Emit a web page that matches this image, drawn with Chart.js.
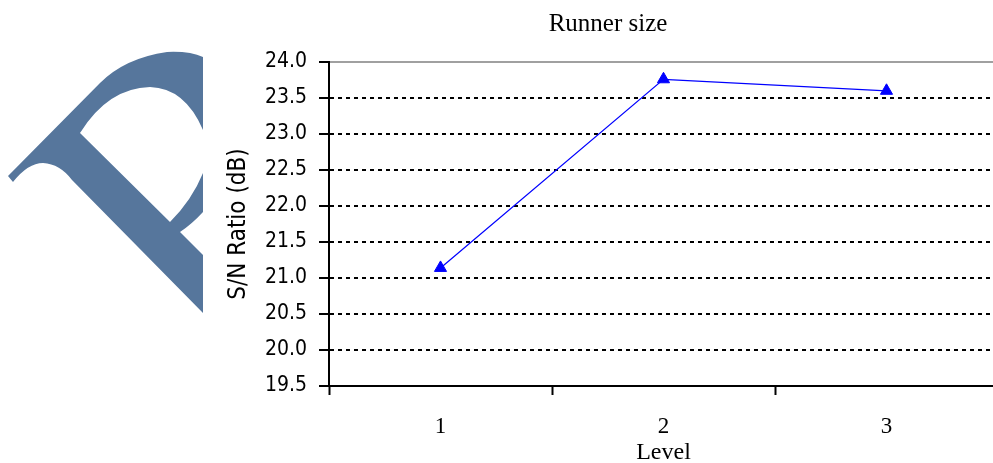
<!DOCTYPE html>
<html>
<head>
<meta charset="utf-8">
<script src="https://cdn.jsdelivr.net/npm/chart.js@4/dist/chart.umd.min.js"></script>
<style>
  html, body { margin: 0; padding: 0; background: #fff; overflow: hidden; }
  /* wider than the window: the plot runs a little past the right edge */
  #wrap { position: absolute; left: 0; top: 0; width: 1006px; height: 470px; }
</style>
</head>
<body>
<div id="wrap"><canvas id="chart"></canvas></div>
<script>
const levels = ["1", "2", "3"];
const snRatio = [21.14, 23.76, 23.6];
const yTicks = [19.5, 20.0, 20.5, 21.0, 21.5, 22.0, 22.5, 23.0, 23.5, 24.0];

const chartTitle = "Runner size";
const yTitle = "S/N Ratio (dB)";
const xTitle = "Level";

// blue logo shape on the left, the title and the plot top border
const backdrop = {
  id: "backdrop",
  beforeDraw(chart) {
    const ctx = chart.ctx;
    ctx.save();
    ctx.fillStyle = "#56769c";
    ctx.beginPath();
    ctx.moveTo(8, 176);
    ctx.lineTo(100, 83);
    ctx.quadraticCurveTo(125, 58, 167, 52);
    ctx.quadraticCurveTo(190, 51, 203, 57);
    ctx.lineTo(203, 130);
    ctx.quadraticCurveTo(185, 88, 150, 87);
    ctx.quadraticCurveTo(108, 88, 80, 133);
    ctx.lineTo(170, 222);
    ctx.quadraticCurveTo(192, 200, 203, 173);
    ctx.lineTo(203, 212);
    ctx.quadraticCurveTo(192, 224, 180, 232);
    ctx.lineTo(203, 255);
    ctx.lineTo(203, 313);
    ctx.lineTo(72, 180);
    ctx.quadraticCurveTo(60, 164, 43, 163);
    ctx.quadraticCurveTo(28, 163, 13, 182);
    ctx.closePath();
    ctx.fill();

    ctx.fillStyle = "#000";
    ctx.font = "25px 'Liberation Serif'";
    ctx.textAlign = "center";
    ctx.textBaseline = "middle";
    ctx.fillText(chartTitle, 608, 24);

    const a = chart.chartArea;
    ctx.strokeStyle = "#a0a0a0";
    ctx.lineWidth = 2;
    ctx.beginPath();
    ctx.moveTo(a.left, a.top);
    ctx.lineTo(a.right, a.top);
    ctx.stroke();
    ctx.restore();
  }
};

new Chart(document.getElementById("chart"), {
  type: "line",
  data: {
    labels: levels,
    datasets: [{
      data: snRatio,
      borderColor: "#0000ff",
      backgroundColor: "#0000ff",
      borderWidth: 1.2,
      pointStyle: "triangle",
      pointRadius: 7,
      pointBorderWidth: 1,
      tension: 0
    }]
  },
  options: {
    responsive: true,
    maintainAspectRatio: false,
    animation: false,
    layout: { padding: { top: 62, right: 2, left: 0, bottom: 0 } },
    plugins: {
      legend: { display: false },
      title: { display: false },
      tooltip: { enabled: false }
    },
    scales: {
      x: {
        offset: true,
        grid: {
          offset: true,
          drawOnChartArea: false,
          drawTicks: true,
          tickLength: 9,
          tickColor: "#000",
          tickWidth: 2
        },
        border: { color: "#000", width: 2 },
        ticks: {
          color: "#000",
          padding: 18,
          font: { family: "'Liberation Serif'", size: 23 }
        },
        title: {
          display: true,
          text: xTitle,
          color: "#000",
          padding: 3,
          font: { family: "'Liberation Serif'", size: 24, lineHeight: 1.2 }
        },
        afterFit(scale) { scale.height = 84; }
      },
      y: {
        min: 19.5,
        max: 24.0,
        afterBuildTicks(scale) {
          scale.ticks = yTicks.map(v => ({ value: v }));
        },
        grid: {
          color: ctx => (ctx.tick && (ctx.tick.value === 24 || ctx.tick.value === 19.5)) ? "rgba(0,0,0,0)" : "#000",
          tickBorderDash: [],
          tickLength: 10,
          tickColor: "#000",
          tickWidth: 2,
          lineWidth: 2
        },
        border: { color: "#000", width: 2, dash: [4, 4] },
        ticks: {
          color: "#000",
          padding: 12,
          font: { family: "'DejaVu Sans Condensed'", size: 21 },
          callback: v => Number(v).toFixed(1)
        },
        title: {
          display: true,
          text: yTitle,
          color: "#000",
          padding: { top: 224, bottom: 0 },
          font: { family: "'DejaVu Sans Condensed'", size: 24, lineHeight: 1.2 }
        },
        afterFit(scale) { scale.width = 329; }
      }
    }
  },
  plugins: [backdrop]
});
</script>
</body>
</html>
